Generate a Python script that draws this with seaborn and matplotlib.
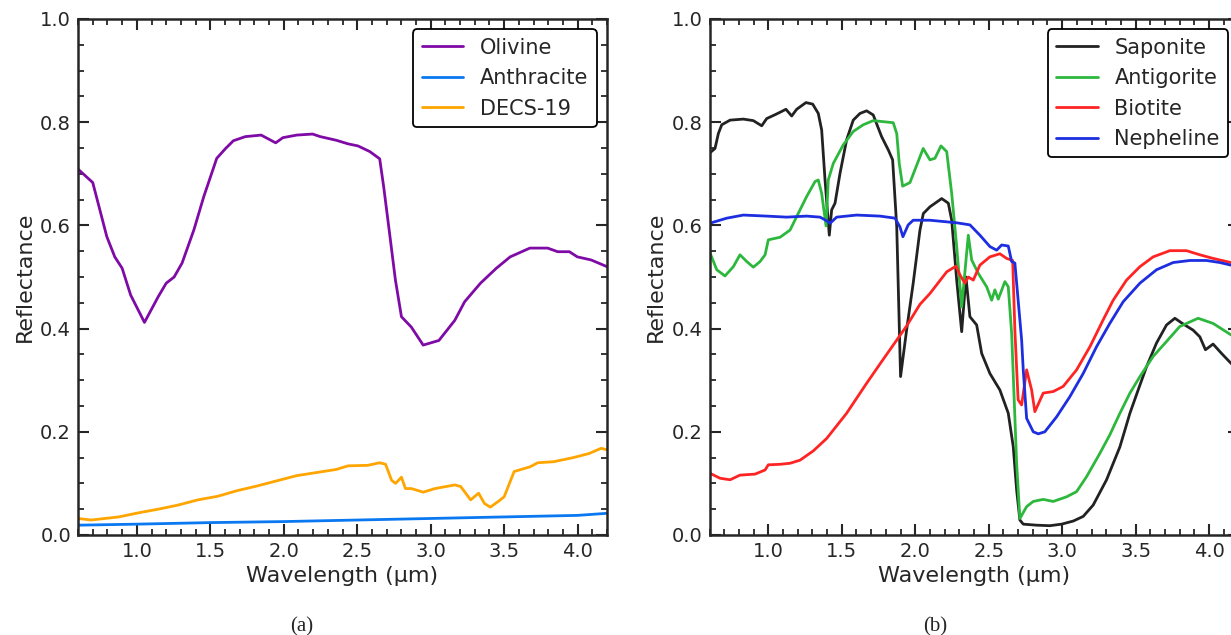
import numpy as np
import pandas as pd
import matplotlib
matplotlib.use("Agg")
import matplotlib.pyplot as plt
from matplotlib.ticker import MultipleLocator
import seaborn as sns

# ---- panel (a) spectra ----
olivine_x = [0.60, 0.70, 0.796, 0.85, 0.90, 0.958, 1.052, 1.146, 1.20, 1.254, 1.308, 1.388,
             1.456, 1.544, 1.604, 1.657, 1.738, 1.846, 1.945, 1.994, 2.088, 2.196, 2.249,
             2.357, 2.438, 2.505, 2.586, 2.653, 2.68, 2.72, 2.76, 2.801, 2.868, 2.949, 3.056,
             3.164, 3.231, 3.339, 3.447, 3.541, 3.675, 3.796, 3.864, 3.944, 3.998, 4.092, 4.20]
olivine_y = [0.709, 0.683, 0.578, 0.539, 0.517, 0.465, 0.412, 0.462, 0.488, 0.500, 0.527, 0.591,
             0.656, 0.730, 0.749, 0.764, 0.772, 0.775, 0.760, 0.770, 0.775, 0.777, 0.772,
             0.765, 0.758, 0.754, 0.743, 0.729, 0.675, 0.585, 0.494, 0.423, 0.403, 0.368, 0.377,
             0.416, 0.452, 0.488, 0.517, 0.539, 0.556, 0.556, 0.549, 0.549, 0.539, 0.533, 0.520]

anthracite_x = [0.60, 1.0, 1.5, 2.0, 2.5, 3.0, 3.5, 4.0, 4.15, 4.20]
anthracite_y = [0.019, 0.021, 0.024, 0.026, 0.029, 0.032, 0.035, 0.038, 0.041, 0.042]

decs_x = [0.60, 0.689, 0.877, 1.012, 1.146, 1.281, 1.415, 1.550, 1.684, 1.819, 1.953, 2.088,
          2.222, 2.357, 2.438, 2.572, 2.653, 2.693, 2.734, 2.761, 2.801, 2.828, 2.868, 2.949,
          3.030, 3.164, 3.204, 3.272, 3.326, 3.366, 3.406, 3.460, 3.500, 3.568, 3.675, 3.729,
          3.837, 3.971, 4.079, 4.160, 4.20]
decs_y = [0.032, 0.029, 0.035, 0.043, 0.050, 0.058, 0.068, 0.075, 0.086, 0.095, 0.105, 0.115,
          0.121, 0.127, 0.134, 0.135, 0.140, 0.137, 0.106, 0.100, 0.112, 0.090, 0.090, 0.083,
          0.090, 0.097, 0.094, 0.068, 0.081, 0.061, 0.054, 0.065, 0.074, 0.123, 0.132, 0.140,
          0.142, 0.150, 0.158, 0.168, 0.165]

# ---- panel (b) spectra ----
saponite_x = [0.60, 0.637, 0.66, 0.683, 0.74, 0.83, 0.898, 0.955, 0.989, 1.057, 1.12, 1.159,
              1.193, 1.256, 1.302, 1.34, 1.363, 1.386, 1.415, 1.431, 1.454, 1.488, 1.533, 1.578,
              1.624, 1.669, 1.714, 1.771, 1.817, 1.846, 1.874, 1.90, 1.941, 1.986, 2.032, 2.055,
              2.10, 2.18, 2.225, 2.248, 2.282, 2.316, 2.345, 2.372, 2.418, 2.452, 2.508, 2.576,
              2.633, 2.667, 2.69, 2.712, 2.735, 2.826, 2.916, 2.996, 3.075, 3.143, 3.211, 3.302,
              3.393, 3.461, 3.517, 3.574, 3.642, 3.71, 3.767, 3.823, 3.891, 3.937, 3.975, 4.027,
              4.084, 4.148, 4.20]
saponite_y = [0.740, 0.749, 0.778, 0.795, 0.804, 0.806, 0.803, 0.793, 0.807, 0.816, 0.825, 0.812,
              0.825, 0.838, 0.835, 0.817, 0.785, 0.688, 0.581, 0.630, 0.643, 0.701, 0.766, 0.804,
              0.817, 0.822, 0.814, 0.772, 0.746, 0.727, 0.597, 0.307, 0.397, 0.488, 0.591, 0.623,
              0.636, 0.652, 0.643, 0.610, 0.494, 0.394, 0.500, 0.423, 0.407, 0.352, 0.313, 0.281,
              0.236, 0.171, 0.087, 0.029, 0.021, 0.019, 0.018, 0.021, 0.027, 0.036, 0.058, 0.107,
              0.171, 0.236, 0.281, 0.326, 0.372, 0.407, 0.420, 0.409, 0.397, 0.384, 0.359, 0.370,
              0.352, 0.333, 0.320]

antigorite_x = [0.60, 0.649, 0.705, 0.762, 0.807, 0.853, 0.898, 0.944, 0.978, 1.0, 1.08, 1.148,
                1.193, 1.261, 1.318, 1.34, 1.363, 1.393, 1.408, 1.442, 1.51, 1.578, 1.646, 1.714,
                1.782, 1.85, 1.874, 1.891, 1.914, 1.964, 2.054, 2.10, 2.134, 2.175, 2.214, 2.248,
                2.282, 2.316, 2.361, 2.384, 2.429, 2.486, 2.52, 2.542, 2.565, 2.61, 2.633, 2.656,
                2.69, 2.712, 2.758, 2.803, 2.871, 2.939, 3.03, 3.098, 3.166, 3.256, 3.324, 3.393,
                3.461, 3.529, 3.619, 3.71, 3.80, 3.925, 4.027, 4.148, 4.20]
antigorite_y = [0.549, 0.514, 0.502, 0.520, 0.543, 0.530, 0.519, 0.530, 0.543, 0.572, 0.577, 0.591,
                0.617, 0.656, 0.685, 0.688, 0.662, 0.599, 0.688, 0.720, 0.756, 0.782, 0.795, 0.803,
                0.801, 0.799, 0.778, 0.720, 0.676, 0.683, 0.749, 0.727, 0.730, 0.754, 0.743, 0.662,
                0.559, 0.442, 0.581, 0.533, 0.507, 0.481, 0.455, 0.475, 0.457, 0.491, 0.481, 0.391,
                0.139, 0.032, 0.055, 0.065, 0.069, 0.065, 0.074, 0.084, 0.113, 0.158, 0.194, 0.236,
                0.275, 0.307, 0.346, 0.375, 0.404, 0.420, 0.410, 0.388, 0.380]

biotite_x = [0.60, 0.671, 0.74, 0.807, 0.91, 0.978, 1.0, 1.08, 1.148, 1.216, 1.306, 1.397, 1.533,
             1.669, 1.771, 1.85, 1.941, 2.032, 2.10, 2.214, 2.277, 2.304, 2.338, 2.361, 2.395,
             2.44, 2.508, 2.576, 2.622, 2.663, 2.678, 2.70, 2.724, 2.758, 2.792, 2.814, 2.871,
             2.939, 3.007, 3.098, 3.189, 3.279, 3.347, 3.438, 3.529, 3.619, 3.733, 3.846, 3.937,
             4.027, 4.148, 4.20]
biotite_y = [0.120, 0.110, 0.107, 0.116, 0.118, 0.126, 0.136, 0.137, 0.139, 0.145, 0.163, 0.187, 0.236,
             0.294, 0.336, 0.368, 0.405, 0.447, 0.468, 0.510, 0.521, 0.504, 0.488, 0.500, 0.494,
             0.523, 0.539, 0.545, 0.536, 0.532, 0.397, 0.262, 0.252, 0.320, 0.281, 0.239, 0.275,
             0.278, 0.288, 0.320, 0.365, 0.417, 0.455, 0.494, 0.520, 0.539, 0.551, 0.551, 0.543,
             0.536, 0.528, 0.525]

nepheline_x = [0.60, 0.717, 0.83, 0.989, 1.125, 1.261, 1.352, 1.397, 1.42, 1.465, 1.601, 1.76,
               1.862, 1.896, 1.916, 1.952, 1.986, 2.10, 2.282, 2.372, 2.44, 2.508, 2.554, 2.588,
               2.633, 2.656, 2.678, 2.724, 2.735, 2.758, 2.803, 2.837, 2.882, 2.962, 3.052, 3.143,
               3.234, 3.324, 3.415, 3.529, 3.642, 3.755, 3.869, 3.982, 4.073, 4.148, 4.20]
nepheline_y = [0.604, 0.614, 0.620, 0.618, 0.616, 0.618, 0.616, 0.609, 0.604, 0.616, 0.620, 0.618,
               0.614, 0.597, 0.578, 0.601, 0.610, 0.610, 0.605, 0.601, 0.581, 0.559, 0.552, 0.562,
               0.560, 0.530, 0.527, 0.378, 0.320, 0.226, 0.200, 0.196, 0.200, 0.229, 0.268, 0.313,
               0.365, 0.410, 0.452, 0.488, 0.514, 0.528, 0.532, 0.532, 0.528, 0.523, 0.520]

names_a = ["Olivine", "Anthracite", "DECS-19"]
colors_a = ["#7f0aa6", "#0a78f0", "#ffa500"]
names_b = ["Saponite", "Antigorite", "Biotite", "Nepheline"]
colors_b = ["#222222", "#2db83d", "#ff2424", "#1c2ee0"]


def long_frame(names, xs, ys):
    parts = [pd.DataFrame({"Wavelength": x, "Reflectance": y, "Sample": n})
             for n, x, y in zip(names, xs, ys)]
    return pd.concat(parts, ignore_index=True)


df_a = long_frame(names_a, [olivine_x, anthracite_x, decs_x], [olivine_y, anthracite_y, decs_y])
df_b = long_frame(names_b, [saponite_x, antigorite_x, biotite_x, nepheline_x],
                  [saponite_y, antigorite_y, biotite_y, nepheline_y])

sns.set_theme(style="ticks")
plt.rcParams.update({
    "xtick.direction": "in", "ytick.direction": "in",
    "xtick.top": True, "ytick.right": True,
    "xtick.major.size": 8, "ytick.major.size": 8,
    "xtick.minor.size": 4, "ytick.minor.size": 4,
    "xtick.major.width": 1.5, "ytick.major.width": 1.5,
    "xtick.minor.width": 1.3, "ytick.minor.width": 1.3,
    "xtick.major.pad": 5, "ytick.major.pad": 5,
    "axes.linewidth": 1.8, "axes.edgecolor": "#262626",
})

fig = plt.figure(figsize=(12.31, 6.35), dpi=100)
ax_a = fig.add_axes([0.0634, 0.1575, 0.4297, 0.8126])
ax_b = fig.add_axes([0.5764, 0.1575, 0.4297, 0.8126])

for ax, df, names, colors in [(ax_a, df_a, names_a, colors_a), (ax_b, df_b, names_b, colors_b)]:
    sns.lineplot(data=df, x="Wavelength", y="Reflectance", hue="Sample", hue_order=names,
                 palette=colors, estimator=None, sort=False, lw=2, ax=ax)
    ax.set_xlim(0.6, 4.2)
    ax.set_ylim(0, 1.0)
    ax.xaxis.set_major_locator(MultipleLocator(0.5))
    ax.xaxis.set_minor_locator(MultipleLocator(0.1))
    ax.yaxis.set_major_locator(MultipleLocator(0.2))
    ax.yaxis.set_minor_locator(MultipleLocator(0.05))
    ax.tick_params(which="both", top=True, right=True, labelsize=14)
    ax.set_xlabel("Wavelength (μm)", fontsize=16)
    ax.set_ylabel("Reflectance", fontsize=16)
    sns.move_legend(ax, "upper right", title=None, fontsize=15, frameon=True,
                    edgecolor="black", fancybox=True, framealpha=1)
    ax.get_legend().get_frame().set_linewidth(1.3)

fig.text(302 / 1231, 1 - 627 / 635, "(a)", ha="center", va="center",
         family="Liberation Serif", fontsize=15)
fig.text(935 / 1231, 1 - 627 / 635, "(b)", ha="center", va="center",
         family="Liberation Serif", fontsize=15)

fig.savefig("out.png", dpi=100)
